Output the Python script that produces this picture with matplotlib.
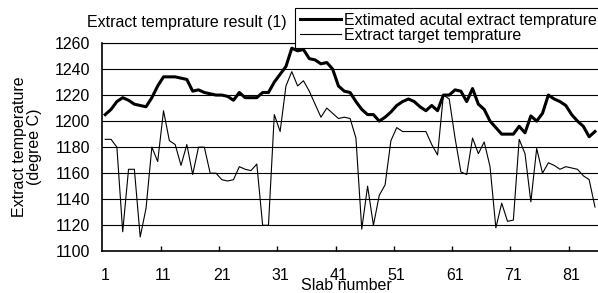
import numpy as np
import matplotlib
matplotlib.use("Agg")
import matplotlib.pyplot as plt

plt.rcParams["font.family"] = ["Liberation Sans", "DejaVu Sans"]
plt.rcParams["font.size"] = 11.5

# slab numbers 1..85
slabs = np.arange(1, 86)

# estimated actual extract temperature (thick line)
actual = [1205, 1209, 1215, 1218, 1216, 1213, 1212, 1211, 1218, 1227,
          1234, 1234, 1234, 1233, 1232, 1223, 1224, 1222, 1221, 1220,
          1220, 1219, 1216, 1222, 1218, 1218, 1218, 1222, 1222, 1230,
          1236, 1242, 1256, 1254, 1255, 1248, 1247, 1244, 1245, 1240,
          1227, 1223, 1222, 1215, 1209, 1205, 1205, 1200, 1203, 1207,
          1212, 1215, 1217, 1215, 1211, 1208, 1212, 1208, 1220, 1220,
          1224, 1223, 1215, 1225, 1213, 1209, 1200, 1195, 1190, 1190,
          1190, 1196, 1191, 1204, 1200, 1206, 1220, 1217, 1215, 1212,
          1205, 1200, 1196, 1188, 1192]

# extract target temperature (thin line)
target = [1186, 1186, 1180, 1115, 1163, 1163, 1111, 1133, 1180, 1169,
          1208, 1185, 1182, 1166, 1182, 1159, 1180, 1180, 1160, 1160,
          1155, 1154, 1155, 1165, 1163, 1162, 1167, 1120, 1120, 1205,
          1192, 1227, 1238, 1227, 1231, 1223, 1213, 1203, 1210, 1206,
          1202, 1203, 1202, 1187, 1117, 1150, 1120, 1143, 1151, 1185,
          1195, 1192, 1192, 1192, 1192, 1192, 1182, 1174, 1220, 1217,
          1187, 1161, 1159, 1187, 1175, 1184, 1165, 1118, 1137, 1123,
          1124, 1186, 1175, 1138, 1179, 1160, 1168, 1166, 1163, 1165,
          1164, 1163, 1158, 1155, 1134]

x_labels = [1, 11, 21, 31, 41, 51, 61, 71, 81]

W, H = 598, 293
fig = plt.figure(figsize=(W / 100, H / 100), dpi=100)
ax = fig.add_axes([102.3 / W, 41.7 / H, 495.6 / W, 208.3 / H])

ax.plot(slabs, actual, color="black", lw=2.2, label="Extimated acutal extract temprature", zorder=3)
ax.plot(slabs, target, color="black", lw=0.8, label="Extract target temprature", zorder=3)

ax.set_xlim(0.5, 85.5)
ax.set_ylim(1100, 1260)
ax.set_yticks(np.arange(1100, 1261, 20))
ax.yaxis.grid(True, color="black", lw=0.8)
ax.set_axisbelow(True)
ax.tick_params(axis="y", length=0, pad=8.6)

ax.set_xticks(x_labels)
ax.set_xticklabels([str(v) for v in x_labels])
ax.set_xticks(np.arange(10.5, 81, 10), minor=True)
ax.tick_params(axis="x", which="major", length=0, pad=12)
ax.tick_params(axis="x", which="minor", direction="in", length=3.6, width=1)

ax.spines["right"].set_visible(False)
ax.spines["top"].set_linewidth(0.8)
ax.spines["left"].set_linewidth(1.2)
ax.spines["bottom"].set_linewidth(1.2)

fig.text(87 / W, 1 - 23 / H, "Extract temprature result (1)", ha="left", va="center")
fig.text(346 / W, 1 - 286 / H, "Slab number", ha="center", va="center")
fig.text(27 / W, 1 - 147 / H, "Extract temperature\n(degree C)", rotation=90,
         ha="center", va="center", multialignment="center", linespacing=1.0)

leg = fig.legend(loc="upper left", bbox_to_anchor=(295 / W, 1 - 8 / H),
                 frameon=True, fancybox=False, shadow=False, framealpha=1,
                 edgecolor="black", handlelength=2.6, handletextpad=0.15,
                 labelspacing=0.0, borderpad=0.3, borderaxespad=0)
leg.get_frame().set_linewidth(0.8)

fig.savefig("out.png", dpi=100)
